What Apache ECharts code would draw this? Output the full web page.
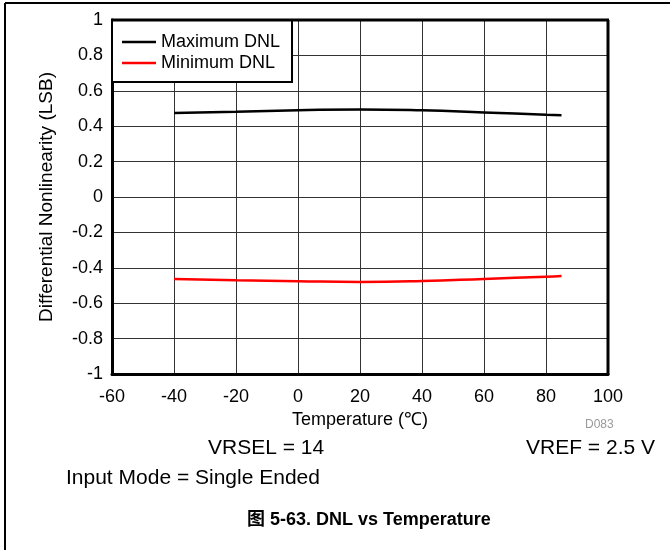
<!DOCTYPE html>
<html>
<head>
<meta charset="utf-8">
<script src="https://cdn.jsdelivr.net/npm/echarts@6/dist/echarts.min.js"></script>
<style>
  html, body { margin: 0; padding: 0; background: #fff; }
  #chart { width: 670px; height: 550px; }
</style>
</head>
<body>
<div id="chart"></div>
<script>
// 数据
const temps = [-40, -20, 0, 20, 40, 60, 80, 85];
const maxDnl = [0.475, 0.482, 0.490, 0.495, 0.490, 0.478, 0.465, 0.462];
const minDnl = [-0.463, -0.470, -0.476, -0.480, -0.475, -0.463, -0.450, -0.446];
const seriesNames = ['Maximum DNL', 'Minimum DNL'];

const font = 'Liberation Sans, Arial, sans-serif';
const chart = echarts.init(document.getElementById('chart'));

const option = {
    animation: false,
    grid: { left: 112, right: 62, top: 20, bottom: 176 },
    legend: {
        orient: 'vertical',
        left: 112,
        top: 20,
        padding: [13, 12, 10, 10],
        icon: 'rect',
        itemWidth: 34,
        itemHeight: 2.5,
        itemGap: 3,
        backgroundColor: '#fff',
        borderColor: '#000',
        borderWidth: 2,
        borderRadius: 0,
        textStyle: { fontFamily: font, fontSize: 18, color: '#000' },
        data: seriesNames
    },
    xAxis: {
        type: 'value',
        min: -60,
        max: 100,
        interval: 20,
        name: 'Temperature (℃)',
        nameLocation: 'middle',
        nameGap: 31,
        nameTextStyle: { fontFamily: font, fontSize: 18, color: '#000' },
        axisLine: { show: true, onZero: false, lineStyle: { color: '#000', width: 3 } },
        axisTick: { show: false },
        axisLabel: { fontFamily: font, fontSize: 18, color: '#000', margin: 14 },
        splitLine: { show: true, lineStyle: { color: '#333', width: 1 } }
    },
    yAxis: {
        type: 'value',
        min: -1,
        max: 1,
        interval: 0.2,
        name: 'Differential Nonlinearity (LSB)',
        nameLocation: 'middle',
        nameGap: 56,
        nameTextStyle: { fontFamily: font, fontSize: 19, color: '#000' },
        axisLine: { show: true, onZero: false, lineStyle: { color: '#000', width: 3 } },
        axisTick: { show: false },
        axisLabel: { fontFamily: font, fontSize: 18, color: '#000', margin: 9,
            formatter: v => String(Math.round(v * 10) / 10) },
        splitLine: { show: true, lineStyle: { color: '#333', width: 1 } }
    },
    series: [
        {
            name: seriesNames[0],
            type: 'line',
            smooth: true,
            symbol: 'none',
            lineStyle: { color: '#000', width: 2.5 },
            itemStyle: { color: '#000' },
            data: temps.map((t, i) => [t, maxDnl[i]])
        },
        {
            name: seriesNames[1],
            type: 'line',
            smooth: true,
            symbol: 'none',
            lineStyle: { color: '#ff0000', width: 2.5 },
            itemStyle: { color: '#ff0000' },
            data: temps.map((t, i) => [t, minDnl[i]])
        }
    ],
    graphic: [
        // 右上边框
        { type: 'line', shape: { x1: 111, y1: 20, x2: 609, y2: 20 }, style: { stroke: '#000', lineWidth: 3 }, z: 10 },
        { type: 'line', shape: { x1: 608, y1: 20, x2: 608, y2: 375 }, style: { stroke: '#000', lineWidth: 3 }, z: 10 },
        // 外框
        { type: 'line', shape: { x1: 5, y1: 3, x2: 670, y2: 3 }, style: { stroke: '#000', lineWidth: 2 } },
        { type: 'line', shape: { x1: 5, y1: 3, x2: 5, y2: 550 }, style: { stroke: '#000', lineWidth: 2 } },
        { type: 'text', left: 585, top: 419, style: { text: 'D083', fontFamily: font, fontSize: 12, fill: '#999' } },
        { type: 'text', left: 208, top: 438, style: { text: 'VRSEL = 14', fontFamily: font, fontSize: 21, fill: '#000' } },
        { type: 'text', right: 15, top: 438, style: { text: 'VREF = 2.5 V', fontFamily: font, fontSize: 21, fill: '#000' } },
        { type: 'text', left: 66, top: 468, style: { text: 'Input Mode = Single Ended', fontFamily: font, fontSize: 21, fill: '#000' } },
        { type: 'text', left: 247, top: 511, style: { text: '图 5-63. DNL vs Temperature', fontFamily: 'Liberation Sans, Noto Sans CJK SC, sans-serif', fontSize: 18, fontWeight: 'bold', fill: '#000' } }
    ]
};

chart.setOption(option);
window.addEventListener('resize', () => chart.resize());
</script>
</body>
</html>
